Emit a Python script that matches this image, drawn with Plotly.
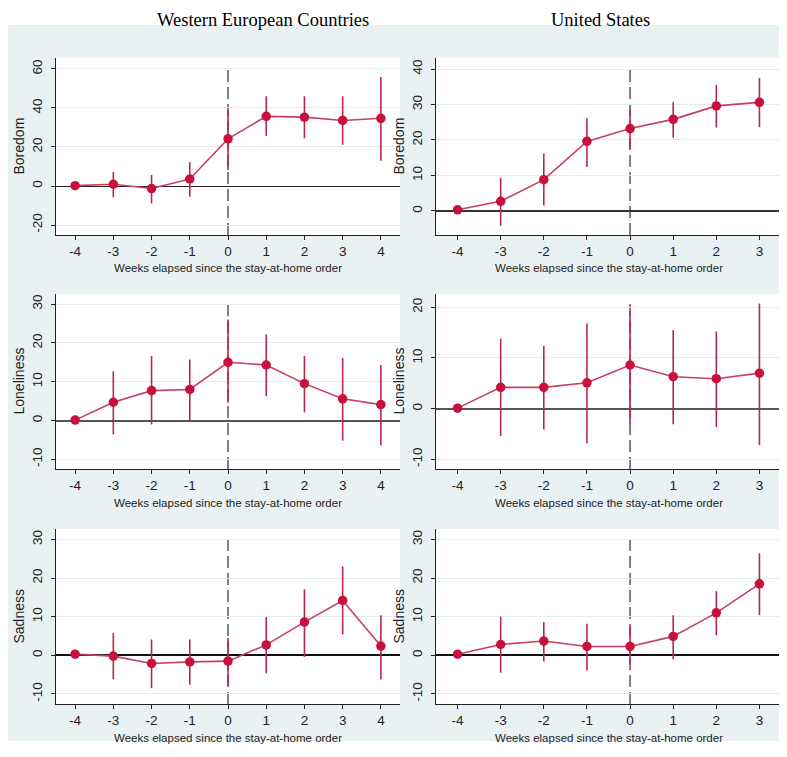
import plotly.graph_objects as go

# ---------------- data ----------------
weeks_we = [-4, -3, -2, -1, 0, 1, 2, 3, 4]
weeks_us = [-4, -3, -2, -1, 0, 1, 2, 3]

we_boredom = [0.2, 0.9, -1.3, 3.6, 24.2, 35.7, 35.3, 33.6, 34.7]
we_boredom_lo = [0.2, -5.8, -8.9, -5.5, 8.2, 25.7, 24.5, 21.1, 12.9]
we_boredom_hi = [0.2, 7.2, 5.7, 12.2, 39.1, 46.0, 46.0, 46.0, 55.9]

us_boredom = [0.3, 2.7, 8.8, 19.6, 23.2, 25.8, 29.6, 30.6]
us_boredom_lo = [0.3, -4.2, 1.5, 12.4, 17.5, 20.6, 23.5, 23.6]
us_boredom_hi = [0.3, 9.3, 16.2, 26.1, 28.5, 30.6, 35.5, 37.5]

we_loneliness = [0.1, 4.7, 7.7, 8.0, 15.0, 14.3, 9.5, 5.6, 4.1]
we_loneliness_lo = [0.1, -3.6, -1.0, 0.1, 4.6, 6.3, 2.1, -5.2, -6.4]
we_loneliness_hi = [0.1, 12.7, 16.6, 15.7, 26.0, 22.2, 16.6, 16.1, 14.3]

us_loneliness = [0.1, 4.2, 4.2, 5.1, 8.6, 6.3, 5.9, 7.0]
us_loneliness_lo = [0.1, -5.4, -4.1, -6.8, -3.0, -3.1, -3.6, -7.2]
us_loneliness_hi = [0.1, 13.8, 12.4, 16.8, 19.2, 15.5, 15.2, 20.7]

we_sadness = [0.3, -0.2, -2.1, -1.7, -1.5, 2.7, 8.6, 14.2, 2.4]
we_sadness_lo = [0.3, -6.2, -8.5, -7.6, -7.9, -4.7, -0.4, 5.4, -6.2]
we_sadness_hi = [0.3, 5.8, 4.1, 4.1, 4.5, 9.9, 17.1, 23.0, 10.4]

us_sadness = [0.3, 2.8, 3.7, 2.3, 2.3, 4.9, 11.0, 18.5]
us_sadness_lo = [0.3, -4.5, -1.6, -3.9, -2.3, -1.0, 5.2, 10.4]
us_sadness_hi = [0.3, 10.0, 8.6, 8.2, 7.6, 10.4, 16.6, 26.4]

column_titles = ["Western European Countries", "United States"]
x_title = "Weeks elapsed since the stay-at-home order"
y_titles = ["Boredom", "Loneliness", "Sadness"]

# ---------------- layout helpers ----------------
W, H = 787, 757


def px_x(v):
    return v / W


def px_y(v):
    return 1 - v / H


col_px = [(48, 392), (428, 773)]
row_px = [(50, 227), (286, 461), (521, 696)]

panels = [
    # (row, col, x, y, lo, hi, yrange, yticks, zero style)
    (0, 0, weeks_we, we_boredom, we_boredom_lo, we_boredom_hi, [-25.1, 65.6], [-20, 0, 20, 40, 60], ("#222", 1.2)),
    (0, 1, weeks_us, us_boredom, us_boredom_lo, us_boredom_hi, [-6.8, 43.1], [0, 10, 20, 30, 40], ("#333", 1.6)),
    (1, 0, weeks_we, we_loneliness, we_loneliness_lo, we_loneliness_hi, [-12.5, 32.6], [-10, 0, 10, 20, 30], ("#555", 2.4)),
    (1, 1, weeks_us, us_loneliness, us_loneliness_lo, us_loneliness_hi, [-11.9, 22.6], [-10, 0, 10, 20], ("#555", 2.4)),
    (2, 0, weeks_we, we_sadness, we_sadness_lo, we_sadness_hi, [-12.6, 32.7], [-10, 0, 10, 20, 30], ("#111", 2.0)),
    (2, 1, weeks_us, us_sadness, us_sadness_lo, us_sadness_hi, [-12.6, 32.7], [-10, 0, 10, 20, 30], ("#111", 2.0)),
]

MARKER = "#C8103C"
LINE = "#C8405E"
CI = "#B8284C"
GRID = "#E3ECEE"
BG = "#E9F1F3"
TICKFONT = dict(family="Liberation Sans, Arial, sans-serif", size=13.5, color="#222")

fig = go.Figure()
layout = dict(
    width=W, height=H, margin=dict(l=0, r=0, t=0, b=0),
    paper_bgcolor="white", plot_bgcolor="rgba(0,0,0,0)",
    showlegend=False, shapes=[], annotations=[],
)

# gray graph region
layout["shapes"].append(dict(type="rect", xref="paper", yref="paper",
                             x0=0, x1=1, y0=px_y(733), y1=px_y(17),
                             fillcolor=BG, line=dict(width=0), layer="below"))

for i, (r, c, xs, ys, lo, hi, yr, yt, zs) in enumerate(panels):
    k = i + 1
    xa = "xaxis" if k == 1 else f"xaxis{k}"
    ya = "yaxis" if k == 1 else f"yaxis{k}"
    xr = "x" if k == 1 else f"x{k}"
    yrr = "y" if k == 1 else f"y{k}"
    x0p, x1p = col_px[c]
    y0p, y1p = row_px[r]
    # white plot region
    layout["shapes"].append(dict(type="rect", xref="paper", yref="paper",
                                 x0=px_x(x0p), x1=px_x(x1p), y0=px_y(y1p), y1=px_y(y0p),
                                 fillcolor="white", line=dict(width=0), layer="below"))
    xmax = xs[-1] + 0.5
    layout[xa] = dict(domain=[px_x(x0p), px_x(x1p)], anchor=yrr,
                      range=[-4.5, xmax], tickmode="array", tickvals=xs,
                      ticktext=[str(v) for v in xs],
                      showgrid=False, zeroline=False, showline=True,
                      linecolor="#222", linewidth=1, ticks="outside",
                      ticklen=4, tickcolor="#222", tickfont=TICKFONT)
    layout[ya] = dict(domain=[px_y(y1p), px_y(y0p)], anchor=xr,
                      range=yr, tickmode="array", tickvals=yt,
                      ticktext=[str(v) for v in yt], tickangle=-90,
                      showgrid=True, gridcolor=GRID, gridwidth=1.2,
                      zeroline=True, zerolinecolor=zs[0], zerolinewidth=zs[1],
                      showline=True, linecolor="#222", linewidth=1,
                      ticks="outside", ticklen=4, tickcolor="#222",
                      ticklabelstandoff=4, tickfont=TICKFONT)
    # vertical dashed line at week 0
    layout["shapes"].append(dict(type="line", xref=xr, yref=f"{yrr} domain",
                                 x0=0, x1=0, y0=0, y1=0.96,
                                 line=dict(color="#555", width=1.5, dash="12px,5px"),
                                 layer="below"))
    fig.add_trace(go.Scatter(
        x=xs, y=ys, xaxis=xr, yaxis=yrr, mode="lines+markers",
        line=dict(color=LINE, width=1.6),
        marker=dict(color=MARKER, size=9.5),
        error_y=dict(type="data", symmetric=False,
                     array=[h - v for h, v in zip(hi, ys)],
                     arrayminus=[v - l for v, l in zip(ys, lo)],
                     width=0, thickness=1.6, color=CI),
        cliponaxis=False,
    ))
    # axis titles
    layout["annotations"].append(dict(
        text=x_title, xref="paper", yref="paper",
        x=px_x((x0p + x1p) / 2), y=px_y([260, 495, 730][r]),
        showarrow=False, xanchor="center", yanchor="middle",
        font=dict(family="Liberation Sans, Arial, sans-serif", size=11.5, color="#222")))
    layout["annotations"].append(dict(
        text=y_titles[r], xref="paper", yref="paper",
        x=px_x(x0p - 38), y=px_y((y0p + y1p) / 2), textangle=-90,
        showarrow=False, xanchor="center", yanchor="middle",
        font=dict(family="Liberation Sans, Arial, sans-serif", size=14, color="#222")))

# column titles
for c, (t, cx) in enumerate(zip(column_titles, [255, 592])):
    layout["annotations"].append(dict(
        text=t, xref="paper", yref="paper", x=px_x(cx), y=1,
        showarrow=False, xanchor="center", yanchor="top",
        font=dict(family="Liberation Serif, DejaVu Serif, serif", size=18.5, color="black")))

fig.update_layout(**layout)
fig.write_html("out.html")
